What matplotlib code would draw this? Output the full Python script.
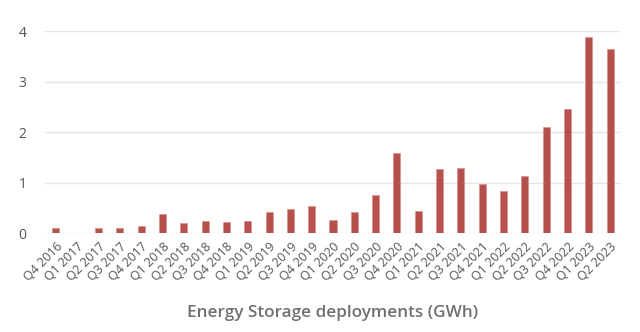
import matplotlib
matplotlib.use("Agg")
import numpy as np
from matplotlib import pyplot as plt

quarters = [
    'Q4 2016', 'Q1 2017', 'Q2 2017', 'Q3 2017', 'Q4 2017', 'Q1 2018', 'Q2 2018', 'Q3 2018',
    'Q4 2018', 'Q1 2019', 'Q2 2019', 'Q3 2019', 'Q4 2019', 'Q1 2020', 'Q2 2020', 'Q3 2020',
    'Q4 2020', 'Q1 2021', 'Q2 2021', 'Q3 2021', 'Q4 2021', 'Q1 2022', 'Q2 2022', 'Q3 2022',
    'Q4 2022', 'Q1 2023', 'Q2 2023'
]
gwh = [
    0.10, 0.01, 0.10, 0.11, 0.14, 0.38, 0.20, 0.24,
    0.22, 0.23, 0.42, 0.48, 0.53, 0.26, 0.42, 0.76,
    1.58, 0.44, 1.27, 1.29, 0.98, 0.84, 1.13, 2.10,
    2.46, 3.89, 3.65
]
y_ticks = [0, 1, 2, 3, 4]

BAR = '#b4514d'
TEXT = '#555555'
GRID = '#e4e4e4'

plt.rcParams['font.family'] = ['Open Sans', 'DejaVu Sans']

fig = plt.figure(figsize=(6.4, 3.32), dpi=100)
ax = fig.add_axes([0.070, 0.298, 0.899, 0.608])

x = np.arange(len(quarters))
ax.bar(x, gwh, width=0.33, color=BAR, edgecolor='#d98c88', linewidth=0.4, zorder=3)

ax.set_ylim(0, 4)
ax.set_xlim(-0.52, len(quarters) - 0.53)
ax.set_yticks(y_ticks)
ax.set_yticklabels([str(t) for t in y_ticks], color=TEXT, fontsize=10)
ax.set_xticks(x)
ax.set_xticklabels(quarters, rotation=45, ha='right', rotation_mode='anchor',
                   color=TEXT, fontsize=9)
ax.tick_params(axis='y', length=0, pad=13)
ax.tick_params(axis='x', length=0, pad=5)

ax.grid(axis='y', color=GRID, linewidth=1, zorder=0)
for side in ['top', 'right', 'left', 'bottom']:
    ax.spines[side].set_visible(False)

fig.text(0.52, 0.058, 'Energy Storage deployments (GWh)', ha='center', va='center',
         color='#707070', fontsize=12.3, fontweight='semibold')

fig.savefig('out.png', dpi=100, facecolor='white')
